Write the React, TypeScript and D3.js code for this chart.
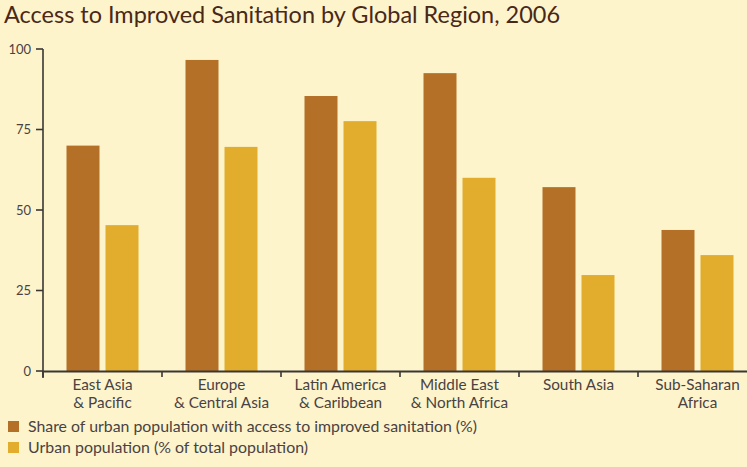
import React from "react";
import * as d3 from "d3";

const categories = [
  ["East Asia", "& Pacific"],
  ["Europe", "& Central Asia"],
  ["Latin America", "& Caribbean"],
  ["Middle East", "& North Africa"],
  ["South Asia"],
  ["Sub-Saharan", "Africa"],
];
const sanitation = [70, 96.6, 85.4, 92.5, 57.1, 43.8];
const urbanPop = [45.3, 69.6, 77.6, 60, 29.8, 36];
const seriesNames = [
  "Share of urban population with access to improved sanitation (%)",
  "Urban population (% of total population)",
];
const yTicks = [0, 25, 50, 75, 100];

const W = 747;
const H = 467;
const BG = "#FDF4CC";
const COLORS = ["#B57028", "#E2AD2C"];
const AXIS = "#3a3634";
const TEXT = "#4a4242";
const FONT = "Lato, 'Open Sans', sans-serif";

export default function App() {
  const keys = categories.map((c) => c.join(" "));
  const x0 = d3.scaleBand<string>().domain(keys).range([43, 43 + 6 * 119]).paddingInner(0).paddingOuter(0);
  const x1 = d3.scaleBand<string>().domain(["a", "b"]).range([23.5, 95.5]).paddingInner(6 / 39).paddingOuter(0);
  const y = d3.scaleLinear().domain([0, 100]).range([371, 49]);
  const data = keys.map((k, i) => ({ k, vals: [sanitation[i], urbanPop[i]] }));
  const bounds = d3.range(0, 6).map((i) => x0(keys[i]) as number);

  return (
    <svg width={W} height={H} style={{ position: "absolute", left: 0, top: 0, fontFamily: FONT }}>
      <rect x={0} y={0} width={W} height={H} fill={BG} />
      <text x={4} y={23} fontSize={23} fill="#4a2818" textLength={556} lengthAdjust="spacingAndGlyphs">
        Access to Improved Sanitation by Global Region, 2006
      </text>
      {data.map((d) => (
        <g key={d.k} transform={`translate(${x0(d.k)},0)`}>
          {d.vals.map((v, j) => (
            <rect
              key={j}
              x={x1(j === 0 ? "a" : "b")}
              y={y(v)}
              width={x1.bandwidth()}
              height={y(0) - y(v)}
              fill={COLORS[j]}
            />
          ))}
        </g>
      ))}
      {/* y axis */}
      <line x1={43} x2={43} y1={49} y2={378} stroke={AXIS} strokeWidth={1.6} />
      {yTicks.map((t) => (
        <g key={t}>
          <line x1={36} x2={43} y1={y(t)} y2={y(t)} stroke={AXIS} strokeWidth={1.6} />
          <text x={31} y={y(t) + 4.5} fontSize={13} textAnchor="end" fill={TEXT}>
            {t}
          </text>
        </g>
      ))}
      {/* x axis */}
      <line x1={43} x2={W} y1={371.5} y2={371.5} stroke={AXIS} strokeWidth={2} />
      {bounds.map((b, i) => (
        <line key={i} x1={b} x2={b} y1={371} y2={377} stroke={AXIS} strokeWidth={1.6} />
      ))}
      {categories.map((lines, i) => (
        <text key={i} x={(x0(keys[i]) as number) + x0.bandwidth() / 2} fontSize={15.3} textAnchor="middle" fill={TEXT}>
          {lines.map((l, j) => (
            <tspan key={j} x={(x0(keys[i]) as number) + x0.bandwidth() / 2} y={390 + j * 18}>
              {l}
            </tspan>
          ))}
        </text>
      ))}
      {/* legend */}
      {seriesNames.map((s, i) => (
        <g key={i}>
          <rect x={8} y={421 + i * 21} width={11} height={11} fill={COLORS[i]} />
          <text x={28} y={431.5 + i * 21} fontSize={15} fill={TEXT} textLength={i === 0 ? 449 : 280} lengthAdjust="spacingAndGlyphs">
            {s}
          </text>
        </g>
      ))}
    </svg>
  );
}
